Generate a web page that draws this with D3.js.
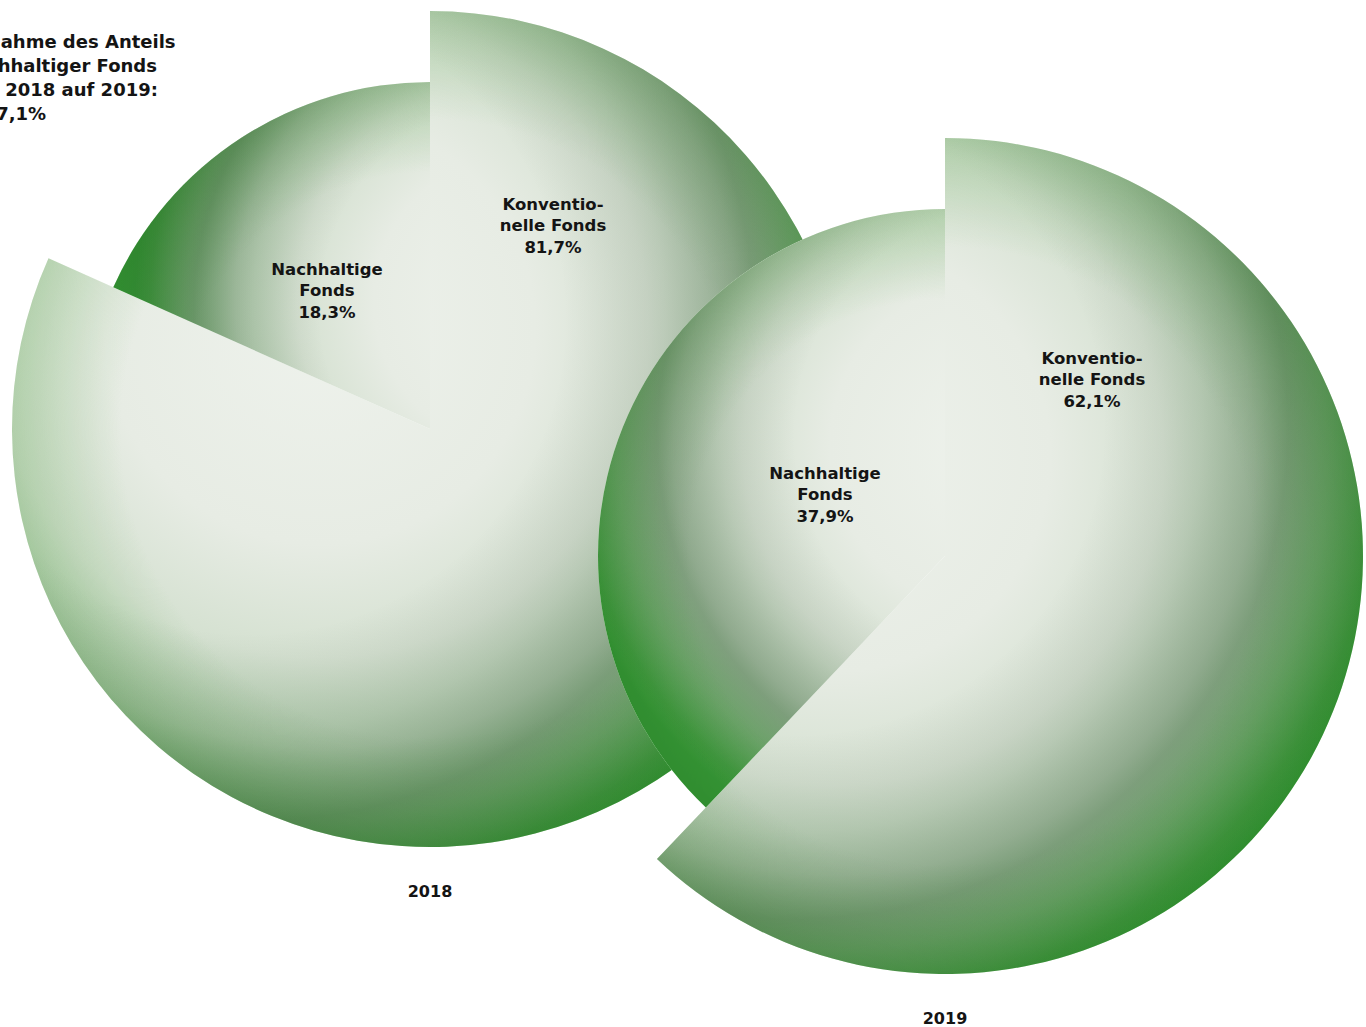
<!DOCTYPE html>
<html><head><meta charset="utf-8">
<script src="https://cdn.jsdelivr.net/npm/d3@7"></script>
<style>
body{margin:0;background:#fff;overflow:hidden;}
svg{display:block;}
text{font-family:"DejaVu Sans",sans-serif;font-weight:bold;fill:#141414;}
</style>
</head><body>
<svg id="chart" width="1366" height="1027"></svg>
<script>
// ---------- data ----------
const years = ["2018", "2019"];
const categories = ["Konventionelle Fonds", "Nachhaltige Fonds"];
const categoryLabelLines = [["Konventio-", "nelle Fonds"], ["Nachhaltige", "Fonds"]];
const shares2018 = [81.7, 18.3];
const shares2019 = [62.1, 37.9];
const titleLines = ["Zunahme des Anteils", "nachhaltiger Fonds", "von 2018 auf 2019:"];

// ---------- layout / style ----------
const de = d3.formatLocale({decimal: ",", thousands: ".", grouping: [3], currency: ["", " €"]});
const fmtPct = v => de.format(".1f")(v) + "%";
const growth = (shares2019[1] / shares2018[1] - 1) * 100;

const svg = d3.select("#chart");
const defs = svg.append("defs");

const radius = d3.scaleOrdinal().domain(categories).range([418, 347]);

// per slice: base gradient offset (b), shadow gradient offset (s), optional radius override
const pies = [
  {year: years[0], values: shares2018, cx: 430, cy: 429,
   labelPos: [[123, -204], [-103, -139]],
   shade: [{b: [-110, -100], s: [-180, -110]},
           {b: [90, -128], br: 385, s: [100, -120], sr: 420}]},
  {year: years[1], values: shares2019, cx: 945, cy: 556,
   labelPos: [[147, -177], [-120, -62]],
   shade: [{b: [-110, -100], s: [-150, -130]},
           {b: [50, -110], br: 435, s: [80, -120], sr: 460}]}
];

const baseStops = [
  [0, "#eef2ec"], [0.38, "#e7ece4"], [0.58, "#d5e1d1"], [0.74, "#b2d0ae"],
  [0.87, "#78b874"], [0.96, "#46a044"], [1, "#3a9a3a"]
];
const shadowStops = [[0, 0], [0.5, 0], [0.66, 0.12], [0.8, 0.3], [0.92, 0.12], [1, 0]];
const rimStops = [[0, 0], [0.74, 0], [0.9, 0.6], [1, 1]];

function radial(id, cx, cy, r) {
  return defs.append("radialGradient").attr("id", id)
    .attr("gradientUnits", "userSpaceOnUse")
    .attr("cx", cx).attr("cy", cy).attr("r", r).attr("fx", cx).attr("fy", cy);
}

const pieGen = d3.pie().sort(null).value(d => d);

pies.forEach((p, pi) => {
  const g = svg.append("g").attr("transform", `translate(${p.cx},${p.cy})`)
    .style("isolation", "isolate");
  const arcs = pieGen(p.values);
  arcs.forEach((a, i) => {
    const R = radius(categories[i]);
    const sh = p.shade[i];
    const arc = d3.arc().innerRadius(0).outerRadius(R);
    const d = arc(a);
    const sg = g.append("g").style("isolation", "isolate");

    const bR = sh.br || R + Math.hypot(sh.b[0], sh.b[1]);
    const gb = radial(`gb${pi}${i}`, sh.b[0], sh.b[1], bR);
    baseStops.forEach(s => gb.append("stop").attr("offset", s[0]).attr("stop-color", s[1]));

    const sR = sh.sr || R + Math.hypot(sh.s[0], sh.s[1]);
    const gs = radial(`gs${pi}${i}`, sh.s[0], sh.s[1], sR);
    shadowStops.forEach(s => gs.append("stop").attr("offset", s[0])
      .attr("stop-color", "#2f3d32").attr("stop-opacity", s[1]));

    const gr = radial(`gr${pi}${i}`, 0, 0, R);
    rimStops.forEach(s => gr.append("stop").attr("offset", s[0])
      .attr("stop-color", "#d3eacf").attr("stop-opacity", s[1]));

    sg.append("path").attr("d", d).attr("fill", `url(#gb${pi}${i})`);
    sg.append("path").attr("d", d).attr("fill", `url(#gs${pi}${i})`);
    sg.append("path").attr("d", d).attr("fill", `url(#gr${pi}${i})`)
      .style("mix-blend-mode", "multiply");
  });
  // labels
  arcs.forEach((a, i) => {
    const lines = categoryLabelLines[i].concat([fmtPct(a.data)]);
    const [lx, ly] = p.labelPos[i];
    const t = g.append("text").attr("text-anchor", "middle").attr("font-size", 16.5);
    lines.forEach((ln, k) => {
      t.append("tspan").attr("x", lx).attr("y", ly + (k - 1) * 21.5 + 6).text(ln);
    });
  });
  g.append("text").attr("text-anchor", "middle").attr("font-size", 16)
    .attr("x", 0).attr("y", 468).text(p.year);
});

// title (partly outside the left edge, as in the original)
const title = svg.append("text").attr("font-size", 18);
titleLines.concat(["+" + fmtPct(growth)]).forEach((ln, k) => {
  title.append("tspan").attr("x", k === 3 ? -44 : -38).attr("y", 48 + k * 24).text(ln);
});
</script>
</body></html>
